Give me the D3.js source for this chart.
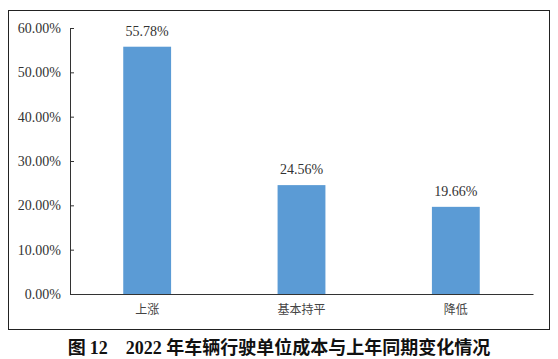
<!DOCTYPE html>
<html><head><meta charset="utf-8">
<script src="https://cdn.jsdelivr.net/npm/d3@7"></script>
<style>body{margin:0;background:#fff} .serif{font-family:"Liberation Serif","DejaVu Serif",serif !important}</style>
</head><body>
<script>
const categories = ["上涨", "基本持平", "降低"];
const values = [55.78, 24.56, 19.66];
const yTicks = [0, 10, 20, 30, 40, 50, 60];
const title = "图 12　2022 年车辆行驶单位成本与上年同期变化情况";

const W = 558, H = 359;
const svg = d3.select("body").append("svg").attr("width", W).attr("height", H);

svg.append("rect").attr("x", 8.5).attr("y", 10.5).attr("width", 541).attr("height", 319)
  .attr("fill", "none").attr("stroke", "#222").attr("stroke-width", 1);

const x0 = 70, x1 = 533, yTop = 28, yBot = 294;
const x = d3.scaleBand().domain(categories).range([x0, x1]).paddingInner(0.69).paddingOuter(0.345);
const y = d3.scaleLinear().domain([0, 60]).range([yBot, yTop]);

const yAxis = d3.axisLeft(y).tickValues(yTicks).tickSizeInner(-4).tickSizeOuter(-4)
  .tickFormat(d => d.toFixed(2) + "%").tickPadding(9);
const gy = svg.append("g").attr("transform", `translate(${x0},0)`).call(yAxis).attr("font-family", null);
gy.select(".domain").attr("stroke", "#333");
gy.selectAll(".tick line").attr("stroke", "#333");
gy.selectAll(".tick text").attr("class", "serif").attr("font-size", 14).attr("fill", "#333");

svg.selectAll("rect.bar").data(values).enter().append("rect").attr("class", "bar")
  .attr("x", (d, i) => x(categories[i])).attr("width", x.bandwidth())
  .attr("y", d => y(d)).attr("height", d => yBot - y(d)).attr("fill", "#5B9BD5");

svg.selectAll("text.val").data(values).enter().append("text").attr("class", "val serif")
  .attr("x", (d, i) => x(categories[i]) + x.bandwidth() / 2).attr("y", d => y(d) - 11)
  .attr("text-anchor", "middle")
  .attr("font-size", 14).attr("fill", "#333").text(d => d.toFixed(2) + "%");

const xAxis = d3.axisBottom(x).tickSize(0).tickPadding(11);
const gx = svg.append("g").attr("transform", `translate(0,${yBot})`).call(xAxis).attr("font-family", null);
gx.select(".domain").attr("stroke", "#333");
gx.selectAll(".tick text").style("font-family", "'Noto Sans CJK SC', sans-serif")
  .attr("font-size", 12).attr("fill", "#444");

const t = svg.append("text").attr("x", 279).attr("y", 354).attr("text-anchor", "middle")
  .attr("font-size", 18).attr("font-weight", "bold").attr("fill", "#111");
t.append("tspan").style("font-family", "'Noto Sans CJK SC', sans-serif").text("图 ");
t.append("tspan").attr("class", "serif").text("12");
t.append("tspan").style("font-family", "'Noto Sans CJK SC', sans-serif").text("　");
t.append("tspan").attr("class", "serif").text("2022 ");
t.append("tspan").style("font-family", "'Noto Sans CJK SC', sans-serif").text("年车辆行驶单位成本与上年同期变化情况");
</script>
</body></html>
